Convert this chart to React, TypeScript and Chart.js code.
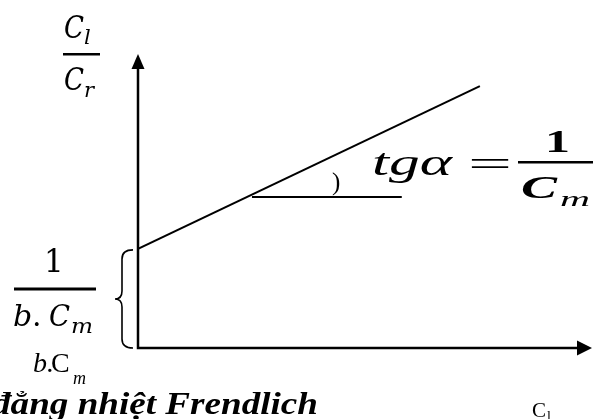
import { useEffect, useRef } from "react";
import { Chart, registerables } from "chart.js";

Chart.register(...registerables);

// Linearised isotherm: C_l / C_r plotted against C_l
const lineX = [0, 7.53];
const lineY = [3.37, 8.91];
// horizontal leg used to mark the slope angle alpha
const legX = [2.51, 5.81];
const legY = [5.14, 5.14];
// axis extents (arrow tips)
const X_MAX = 10;
const Y_MAX = 10;

const SERIF = "'Liberation Serif', 'Times New Roman', serif";
const MATH = "'DejaVu Serif', serif";

function txt(
  ctx: CanvasRenderingContext2D,
  s: string,
  font: string,
  x: number,
  y: number,
  width?: number
) {
  ctx.font = font;
  if (width) {
    const w = ctx.measureText(s).width;
    ctx.save();
    ctx.translate(x, y);
    ctx.scale(width / w, 1);
    ctx.fillText(s, 0, 0);
    ctx.restore();
  } else {
    ctx.fillText(s, x, y);
  }
}

const diagramPlugin = {
  id: "isothermDiagram",
  afterDraw(chart: any) {
    const ctx: CanvasRenderingContext2D = chart.ctx;
    const xs = chart.scales.x;
    const ys = chart.scales.y;
    const x0 = xs.getPixelForValue(0);
    const y0 = ys.getPixelForValue(0);
    const xEnd = xs.getPixelForValue(X_MAX);
    const yTop = ys.getPixelForValue(Y_MAX);

    ctx.save();
    ctx.strokeStyle = "#000";
    ctx.fillStyle = "#000";
    ctx.lineWidth = 2.5;
    ctx.lineCap = "butt";

    // axes
    ctx.beginPath();
    ctx.moveTo(x0, yTop + 12);
    ctx.lineTo(x0, y0);
    ctx.lineTo(xEnd - 12, y0);
    ctx.stroke();

    // arrow heads
    ctx.beginPath();
    ctx.moveTo(x0, yTop);
    ctx.lineTo(x0 - 6.5, yTop + 15);
    ctx.lineTo(x0 + 6.5, yTop + 15);
    ctx.closePath();
    ctx.fill();
    ctx.beginPath();
    ctx.moveTo(xEnd, y0);
    ctx.lineTo(xEnd - 15, y0 - 7.5);
    ctx.lineTo(xEnd - 15, y0 + 7.5);
    ctx.closePath();
    ctx.fill();

    // curly brace spanning the intercept
    const bTop = ys.getPixelForValue(lineY[0]) + 1;
    const bBot = y0;
    const bMid = (bTop + bBot) / 2;
    const bx = x0 - 5;
    const bv = x0 - 16;
    const tip = x0 - 23;
    ctx.lineWidth = 1.6;
    ctx.beginPath();
    ctx.moveTo(bx, bTop);
    ctx.quadraticCurveTo(bv, bTop, bv, bTop + 9);
    ctx.lineTo(bv, bMid - 8);
    ctx.quadraticCurveTo(bv, bMid, tip, bMid);
    ctx.quadraticCurveTo(bv, bMid, bv, bMid + 8);
    ctx.lineTo(bv, bBot - 9);
    ctx.quadraticCurveTo(bv, bBot, bx, bBot);
    ctx.stroke();

    ctx.textBaseline = "alphabetic";
    ctx.textAlign = "left";

    // y-axis title C_l / C_r
    txt(ctx, "C", `italic 31px ${MATH}`, 64, 38, 20);
    txt(ctx, "l", `italic 21px ${MATH}`, 84, 44);
    ctx.fillRect(63, 53, 37, 2.5);
    txt(ctx, "C", `italic 31px ${MATH}`, 64, 90, 20);
    txt(ctx, "r", `italic 21px ${MATH}`, 84, 97);

    // intercept 1 / (b.C_m)
    txt(ctx, "1", `31px ${MATH}`, 44, 272);
    ctx.fillRect(14, 287.5, 82, 3);
    txt(ctx, "b", `italic 30px ${MATH}`, 13, 326);
    txt(ctx, ".", `30px ${MATH}`, 32, 326);
    txt(ctx, "C", `italic 30px ${MATH}`, 49, 326, 21);
    txt(ctx, "m", `italic 20px ${MATH}`, 71, 333, 22);

    // b.C_m
    txt(ctx, "b.", `italic 28px ${SERIF}`, 33, 372);
    txt(ctx, "C", `28px ${SERIF}`, 51, 372);
    txt(ctx, "m", `italic 18px ${SERIF}`, 73, 384);

    // slope angle mark
    txt(ctx, ")", `25px ${SERIF}`, 332, 190);

    // tg alpha = 1 / C_m
    txt(ctx, "tg\u03b1", `italic 38px ${SERIF}`, 372, 175, 80);
    txt(ctx, "=", `36px ${SERIF}`, 468, 176, 44);
    txt(ctx, "1", `bold 32px ${SERIF}`, 545, 152, 25);
    ctx.fillRect(518, 161, 75, 2.5);
    txt(ctx, "C", `bold italic 32px ${SERIF}`, 521, 198, 36);
    txt(ctx, "m", `italic 22px ${SERIF}`, 560, 206, 30);

    // x-axis title
    txt(ctx, "C", `21px ${SERIF}`, 532, 417);
    txt(ctx, "l", `14px ${SERIF}`, 547, 421);

    // caption
    txt(ctx, "\u0111\u1eb3ng nhi\u1ec7t Frendlich", `bold italic 32px ${SERIF}`, -8, 414, 326);

    ctx.restore();
  },
};

export default function App() {
  const ref = useRef<HTMLCanvasElement | null>(null);

  useEffect(() => {
    const canvas = ref.current;
    if (!canvas) return;
    const chart = new Chart(canvas, {
      type: "scatter",
      data: {
        datasets: [
          {
            data: lineX.map((x, i) => ({ x, y: lineY[i] })),
            showLine: true,
            borderColor: "#000",
            borderWidth: 2,
            pointRadius: 0,
          },
          {
            data: legX.map((x, i) => ({ x, y: legY[i] })),
            showLine: true,
            borderColor: "#000",
            borderWidth: 2,
            pointRadius: 0,
          },
        ],
      },
      options: {
        responsive: false,
        animation: false,
        devicePixelRatio: 1,
        layout: { padding: { left: 138, right: 1, top: 54, bottom: 71 } },
        plugins: { legend: { display: false }, tooltip: { enabled: false } },
        scales: {
          x: { type: "linear", min: 0, max: X_MAX, display: false },
          y: { type: "linear", min: 0, max: Y_MAX, display: false },
        },
      },
      plugins: [diagramPlugin],
    });
    return () => chart.destroy();
  }, []);

  return (
    <div style={{ position: "absolute", left: 0, top: 0, width: 593, height: 419, background: "#fff" }}>
      <canvas ref={ref} width={593} height={419} style={{ display: "block" }} />
    </div>
  );
}
